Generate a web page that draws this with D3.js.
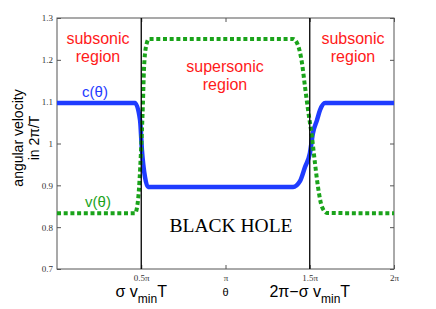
<!DOCTYPE html>
<html>
<head>
<meta charset="utf-8">
<script src="https://cdn.jsdelivr.net/npm/d3@7"></script>
<style>
  body { margin: 0; background: #fff; }
  svg { display: block; }
</style>
</head>
<body>
<svg id="chart" width="436" height="309"></svg>
<script>
// theta in units of pi
const thetaC = [0, 0.463, 0.493, 0.504, 0.522, 0.54, 1.401, 1.442, 1.472, 1.501, 1.519, 1.543, 1.561, 1.591, 2]
const cValues = [1.097, 1.097, 1.056, 0.984, 0.92, 0.896, 0.896, 0.91, 0.944, 0.977, 1.025, 1.056, 1.08, 1.097, 1.097]

const thetaV = [0, 0.463, 0.481, 0.498, 0.51, 0.516, 0.528, 0.546, 1.401, 1.43, 1.454, 1.472, 1.49, 1.513, 1.531, 1.549, 1.573, 1.602, 2]
const vValues = [0.833, 0.833, 0.865, 0.977, 1.097, 1.176, 1.231, 1.25, 1.25, 1.235, 1.192, 1.135, 1.08, 1.016, 0.953, 0.896, 0.848, 0.834, 0.833]

const yTicks = [0.7, 0.8, 0.9, 1, 1.1, 1.2, 1.3]
const xTicks = [0.5, 1, 1.5, 2]
const xTickLabels = ['0.5π', 'π', '1.5π', '2π']
const horizons = [0.5, 1.5]

const width = 436
const height = 309
const margin = { top: 18, right: 42, bottom: 40, left: 57 }

const svg = d3.select('#chart')

const x = d3.scaleLinear().domain([0, 2]).range([margin.left, width - margin.right])
const y = d3.scaleLinear().domain([0.7, 1.3]).range([height - margin.bottom, margin.top])

const axisColor = '#555'

// frame
svg.append('rect')
  .attr('x', x(0))
  .attr('y', y(1.3))
  .attr('width', x(2) - x(0))
  .attr('height', y(0.7) - y(1.3))
  .attr('fill', 'none')
  .attr('stroke', axisColor)
  .attr('stroke-width', 1)

// axes, ticks pointing inwards
const yAxis = svg.append('g')
  .attr('transform', `translate(${x(0)},0)`)
  .call(d3.axisLeft(y).tickValues(yTicks).tickSizeInner(-4).tickSizeOuter(0).tickPadding(4).tickFormat(d3.format('')))
const yAxisR = svg.append('g')
  .attr('transform', `translate(${x(2)},0)`)
  .call(d3.axisRight(y).tickValues(yTicks).tickSizeInner(-4).tickSizeOuter(0).tickFormat(''))
const xAxis = svg.append('g')
  .attr('transform', `translate(0,${y(0.7)})`)
  .call(d3.axisBottom(x).tickValues(xTicks).tickSizeInner(-4).tickSizeOuter(0).tickPadding(6)
    .tickFormat((d, i) => xTickLabels[i]))
const xAxisT = svg.append('g')
  .attr('transform', `translate(0,${y(1.3)})`)
  .call(d3.axisTop(x).tickValues(xTicks).tickSizeInner(-4).tickSizeOuter(0).tickFormat(''))

;[yAxis, yAxisR, xAxis, xAxisT].forEach((a) => {
  a.select('.domain').remove()
  a.selectAll('line').attr('stroke', axisColor)
  a.selectAll('text')
    .attr('fill', '#333')
    .style('font-family', '"Liberation Serif", "Times New Roman", serif')
    .style('font-size', '9px')
})

// curves
const line = d3.line()
  .x((d) => x(d[0]))
  .y((d) => y(d[1]))
  .curve(d3.curveMonotoneX)

svg.append('path')
  .datum(thetaC.map((t, i) => [t, cValues[i]]))
  .attr('d', line)
  .attr('fill', 'none')
  .attr('stroke', '#1f3cff')
  .attr('stroke-width', 4.5)
  .attr('stroke-linejoin', 'round')

svg.append('path')
  .datum(thetaV.map((t, i) => [t, vValues[i]]))
  .attr('d', line)
  .attr('fill', 'none')
  .attr('stroke', '#1aa31a')
  .attr('stroke-width', 4)
  .attr('stroke-dasharray', '4,2.7')

// horizon lines
svg.append('g')
  .selectAll('line')
  .data(horizons)
  .join('line')
  .attr('x1', (d) => x(d))
  .attr('x2', (d) => x(d))
  .attr('y1', y(1.3))
  .attr('y2', y(0.7))
  .attr('stroke', '#000')
  .attr('stroke-width', 1.3)

// annotations
const sans = 'Arial, "Liberation Sans", Helvetica, sans-serif'
const notes = [
  { text: 'subsonic', cx: 98, cy: 44, color: '#ff1a1a', size: 16 },
  { text: 'region', cx: 98, cy: 62, color: '#ff1a1a', size: 16 },
  { text: 'supersonic', cx: 225, cy: 72, color: '#ff1a1a', size: 16 },
  { text: 'region', cx: 225, cy: 90, color: '#ff1a1a', size: 16 },
  { text: 'subsonic', cx: 353, cy: 44, color: '#ff1a1a', size: 16 },
  { text: 'region', cx: 353, cy: 62, color: '#ff1a1a', size: 16 },
  { text: 'c(θ)', cx: 95, cy: 97, color: '#1f3cff', size: 15 },
  { text: 'v(θ)', cx: 98, cy: 207, color: '#1aa31a', size: 15 },
]
svg.append('g')
  .selectAll('text')
  .data(notes)
  .join('text')
  .attr('x', (d) => d.cx)
  .attr('y', (d) => d.cy)
  .attr('text-anchor', 'middle')
  .attr('fill', (d) => d.color)
  .style('font-family', sans)
  .style('font-size', (d) => d.size + 'px')
  .text((d) => d.text)

svg.append('text')
  .attr('x', 231)
  .attr('y', 232)
  .attr('text-anchor', 'middle')
  .style('font-family', '"Liberation Serif", "Times New Roman", serif')
  .style('font-size', '19.5px')
  .text('BLACK HOLE')

// y label
const yLabel = svg.append('text')
  .attr('transform', 'translate(23,138) rotate(-90)')
  .attr('text-anchor', 'middle')
  .style('font-family', sans)
  .style('font-size', '14px')
yLabel.append('tspan').attr('x', 0).attr('y', 0).text('angular velocity')
yLabel.append('tspan').attr('x', 0).attr('y', 16).text('in 2π/T')

// x labels under the horizons
function horizonLabel(cx, prefix) {
  const t = svg.append('text')
    .attr('x', cx)
    .attr('y', 297)
    .attr('text-anchor', 'middle')
    .style('font-family', sans)
    .style('font-size', '16px')
  t.append('tspan').text(prefix + 'σ v')
  t.append('tspan').attr('dy', 6).style('font-size', '12px').text('min')
  t.append('tspan').attr('dy', -6).text('T')
}
horizonLabel(x(0.5), '')
horizonLabel(x(1.5), '2π−')

svg.append('text')
  .attr('x', x(1))
  .attr('y', 296)
  .attr('text-anchor', 'middle')
  .style('font-family', sans)
  .style('font-size', '11px')
  .text('θ')
</script>
</body>
</html>
